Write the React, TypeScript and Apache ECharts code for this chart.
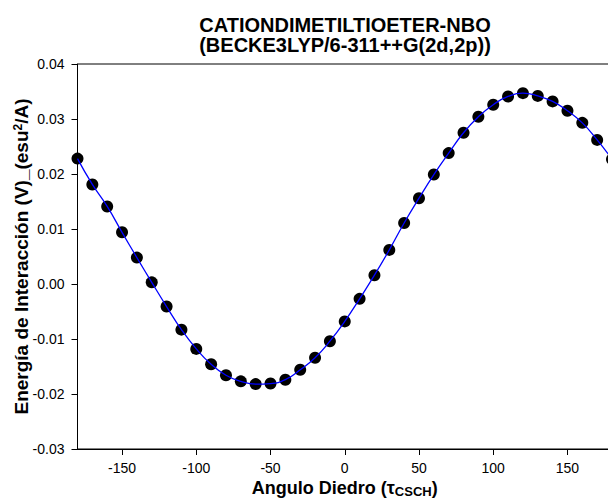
import React, { useEffect, useRef } from "react";
import * as echarts from "echarts";

const angles = [-180, -170, -160, -150, -140, -130, -120, -110, -100, -90, -80, -70, -60, -50, -40, -30, -20, -10, 0, 10, 20, 30, 40, 50, 60, 70, 80, 90, 100, 110, 120, 130, 140, 150, 160, 170, 180];
const energies = [0.0228, 0.0181, 0.0141, 0.0094, 0.0048, 0.0003, -0.0041, -0.0083, -0.0118, -0.0146, -0.0166, -0.0177, -0.0182, -0.0181, -0.0174, -0.0156, -0.0134, -0.0104, -0.0068, -0.0027, 0.0016, 0.0062, 0.0111, 0.0156, 0.0199, 0.0238, 0.0275, 0.0304, 0.0326, 0.0341, 0.0347, 0.0342, 0.0332, 0.0315, 0.0293, 0.0262, 0.0227];
const xTicks = [-150, -100, -50, 0, 50, 100, 150];
const titleLines = ["CATIONDIMETILTIOETER-NBO", "(BECKE3LYP/6-311++G(2d,2p))"];

const FONT = "'Liberation Sans', Arial, sans-serif";

export default function App() {
  const ref = useRef<HTMLDivElement>(null);
  useEffect(() => {
    if (!ref.current) return;
    const chart = echarts.init(ref.current, null, { renderer: "svg" });
    const pts = angles.map((a, i) => [a, energies[i]]);
    chart.setOption({
      animation: false,
      backgroundColor: "#ffffff",
      textStyle: { fontFamily: FONT },
      graphic: titleLines.map((t, i) => ({
        type: "text",
        x: 345,
        y: 25 + i * 20,
        style: {
          text: t,
          align: "center",
          verticalAlign: "middle",
          fontSize: 20,
          fontWeight: "bold",
          fontFamily: FONT,
          fill: "#000",
        },
      })),
      grid: {
        left: 77.5,
        right: -4,
        top: 64,
        bottom: 52,
        containLabel: false,
        outerBoundsMode: "none",
        show: true,
        borderColor: "#000",
        borderWidth: 1,
        backgroundColor: "transparent",
      },
      xAxis: {
        type: "value",
        min: -180,
        max: 180,
        name: "{b|Angulo Diedro (τ}{s|CSCH}{b|)}",
        nameLocation: "middle",
        nameGap: 28,
        nameMoveOverlap: false,
        nameTextStyle: {
          rich: {
            b: { fontSize: 18, fontWeight: "bold", fontFamily: FONT, color: "#000" },
            s: { fontSize: 13, fontWeight: "bold", fontFamily: FONT, color: "#000", padding: [8, 0, 0, 0] },
          },
        },
        axisLine: { show: true, onZero: false, lineStyle: { color: "#000", width: 1 } },
        axisTick: { show: true, inside: false, length: 6, customValues: xTicks, lineStyle: { color: "#000" } },
        axisLabel: { customValues: xTicks, fontSize: 14, color: "#000", margin: 12, fontFamily: FONT },
        splitLine: { show: false },
      },
      yAxis: {
        type: "value",
        min: -0.03,
        max: 0.04,
        interval: 0.01,
        name: "Energía de Interacción (V)_(esu{sup|2}/A)",
        nameLocation: "middle",
        nameGap: 46,
        nameMoveOverlap: false,
        nameTextStyle: {
          fontSize: 19,
          fontWeight: "bold",
          fontFamily: FONT,
          color: "#000",
          rich: {
            sup: { fontSize: 12, fontWeight: "bold", fontFamily: FONT, color: "#000", padding: [0, 0, 8, 0] },
          },
        },
        axisLine: { show: true, onZero: false, lineStyle: { color: "#000", width: 1 } },
        axisTick: { show: true, inside: false, length: 6, lineStyle: { color: "#000" } },
        axisLabel: {
          fontSize: 14,
          color: "#000",
          margin: 13,
          fontFamily: FONT,
          formatter: (v: number) => v.toFixed(2),
        },
        splitLine: { show: false },
      },
      series: [
        {
          type: "scatter",
          data: pts,
          symbol: "circle",
          symbolSize: 12,
          itemStyle: { color: "#000", opacity: 1 },
          z: 2,
          clip: true,
        },
        {
          type: "line",
          data: pts,
          smooth: 0.5,
          showSymbol: false,
          symbol: "none",
          lineStyle: { color: "#0000ff", width: 1.3 },
          z: 3,
        },
      ],
    });
    return () => chart.dispose();
  }, []);
  return <div ref={ref} style={{ width: 608, height: 501, position: "absolute", left: 0, top: 0 }} />;
}
